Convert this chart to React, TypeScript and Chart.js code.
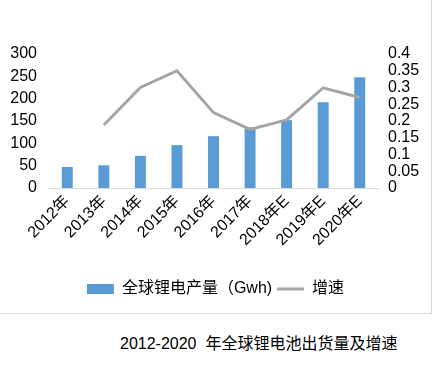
import React, { useEffect, useRef } from "react";
import { Chart, registerables } from "chart.js";

Chart.register(...registerables);

const categories = ["2012年", "2013年", "2014年", "2015年", "2016年", "2017年", "2018年E", "2019年E", "2020年E"];
const production = [47, 51, 72, 96, 116, 136, 152, 192, 248];
const growth = [null, 0.188, 0.3, 0.35, 0.225, 0.175, 0.203, 0.299, 0.27];
const leftTicks = { min: 0, max: 300, step: 50 };
const rightTicks = { min: 0, max: 0.4, step: 0.05 };
const barLabel = "全球锂电产量（Gwh)";
const lineLabel = "增速";
const titleText = "2012-2020  年全球锂电池出货量及增速";

const FONT = '"Liberation Sans", "Noto Sans CJK SC", sans-serif';

export default function App() {
  const ref = useRef<HTMLCanvasElement | null>(null);
  useEffect(() => {
    document.body.style.margin = "0";
    const canvas = ref.current;
    if (!canvas) return;
    const chart = new Chart(canvas, {
      type: "bar",
      data: {
        labels: categories,
        datasets: [
          {
            type: "bar",
            label: barLabel,
            data: production,
            backgroundColor: "#5B9BD5",
            barPercentage: 0.3,
            categoryPercentage: 1,
            yAxisID: "y",
            order: 1,
          } as any,
          {
            type: "line",
            label: lineLabel,
            data: growth,
            borderColor: "#A5A5A5",
            backgroundColor: "#A5A5A5",
            borderWidth: 3,
            pointRadius: 0,
            tension: 0,
            yAxisID: "y1",
            order: 0,
          } as any,
        ],
      },
      options: {
        animation: false,
        responsive: false,
        maintainAspectRatio: false,
        layout: { padding: { top: 54, bottom: 6, left: 0, right: 0 } },
        plugins: {
          tooltip: { enabled: false },
          title: { display: false },
          legend: {
            position: "bottom",
            labels: {
              usePointStyle: true,
              pointStyleWidth: 27,
              boxHeight: 10,
              padding: 5,
              color: "#000",
              font: { family: FONT, size: 16 },
              sort: (a: any, b: any) => a.datasetIndex - b.datasetIndex,
              generateLabels: (c: any) =>
                c.data.datasets.map((ds: any, i: number) => ({
                  text: ds.label,
                  fillStyle: ds.backgroundColor,
                  strokeStyle: ds.type === "line" ? ds.borderColor : ds.backgroundColor,
                  lineWidth: ds.type === "line" ? 3 : 0,
                  pointStyle: ds.type === "line" ? "line" : "rect",
                  datasetIndex: i,
                  hidden: false,
                  fontColor: "#000",
                })),
            },
          },
        },
        scales: {
          x: {
            offset: true,
            grid: { display: false, drawTicks: false },
            border: { display: true, color: "#D9D9D9", width: 1 },
            ticks: {
              color: "#000",
              font: { family: FONT, size: 16 },
              maxRotation: 45,
              minRotation: 45,
              padding: 4,
              autoSkip: false,
            },
            afterFit: (s: any) => {
              s.height = 88;
            },
          },
          y: {
            position: "left",
            min: leftTicks.min,
            max: leftTicks.max,
            grid: { display: false, drawTicks: false },
            border: { display: false },
            ticks: {
              stepSize: leftTicks.step,
              autoSkip: false,
              color: "#000",
              font: { family: FONT, size: 16 },
              padding: 12,
            },
            afterFit: (s: any) => {
              s.width = 49;
            },
          },
          y1: {
            position: "right",
            min: rightTicks.min,
            max: rightTicks.max,
            grid: { display: false, drawTicks: false },
            border: { display: false },
            ticks: {
              stepSize: rightTicks.step,
              autoSkip: false,
              color: "#000",
              font: { family: FONT, size: 16 },
              padding: 10,
              callback: (v: any) => String(Math.round(Number(v) * 100) / 100),
            },
            afterFit: (s: any) => {
              s.width = 53;
            },
          },
        },
      },
    });
    return () => chart.destroy();
  }, []);

  return (
    <div style={{ position: "relative", width: 434, height: 367, background: "#fff" }}>
      <div
        style={{
          position: "absolute",
          left: 0,
          top: 0,
          width: 431,
          height: 313,
          borderRight: "1px solid #D9D9D9",
          borderBottom: "1px solid #D9D9D9",
        }}
      >
        <canvas ref={ref} width={431} height={313} style={{ display: "block" }} />
      </div>
      <div
        style={{
          position: "absolute",
          left: 120,
          top: 334,
          fontFamily: FONT,
          fontSize: 16,
          lineHeight: "20px",
          color: "#000",
          whiteSpace: "pre",
        }}
      >
        {titleText}
      </div>
    </div>
  );
}
